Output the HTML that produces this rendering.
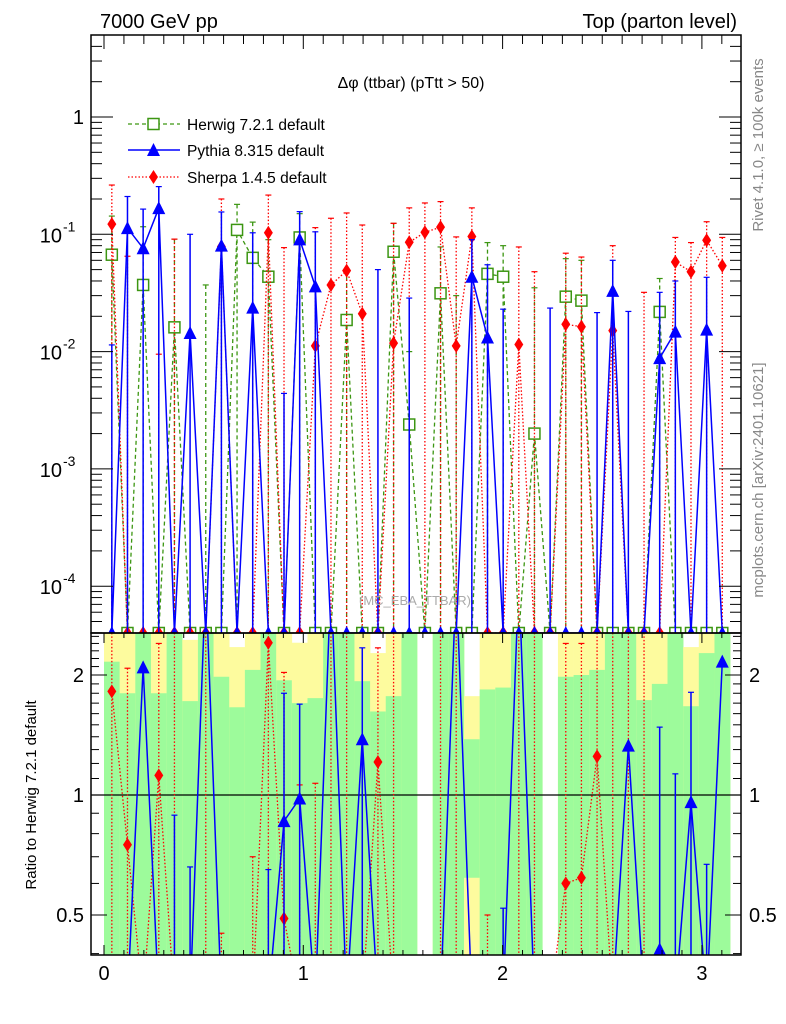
<!DOCTYPE html>
<html><head><meta charset="utf-8"><style>
html,body{margin:0;padding:0;background:#fff;}
svg{display:block;font-family:"Liberation Sans",Arial,sans-serif;}
</style></head><body>
<svg id="chart" xmlns="http://www.w3.org/2000/svg" width="786" height="1024" viewBox="0 0 786 1024">
<defs>
<clipPath id="cm"><rect x="91" y="35" width="650" height="598"/></clipPath>
<clipPath id="cr"><rect x="91" y="633" width="650" height="322"/></clipPath>
</defs>
<rect width="786" height="1024" fill="#fff"/>
<g id="bands" clip-path="url(#cr)"></g>
<g id="rmarks" clip-path="url(#cr)"></g>
<g id="mmarks" clip-path="url(#cm)"></g>
<g id="axes"></g>
<text x="100" y="28" font-size="20">7000 GeV pp</text>
<text x="737" y="28" font-size="20" text-anchor="end">Top (parton level)</text>
<text x="411" y="88" font-size="16" text-anchor="middle">Δφ (ttbar) (pTtt &gt; 50)</text>
<text x="415" y="605" font-size="13" fill="#aaa" text-anchor="middle">(MC_EBA_TTBAR)</text>
<text transform="translate(763,145) rotate(-90)" font-size="15" fill="#888" text-anchor="middle">Rivet 4.1.0, ≥ 100k events</text>
<text transform="translate(763,480) rotate(-90)" font-size="15" fill="#888" text-anchor="middle">mcplots.cern.ch [arXiv:2401.10621]</text>
<text transform="translate(36,795) rotate(-90)" font-size="15" text-anchor="middle">Ratio to Herwig 7.2.1 default</text>
<g id="legend">
 <g>
  <line x1="128" y1="124" x2="180" y2="124" stroke="#3c9612" stroke-width="1.3" stroke-dasharray="4,3"/>
  <rect x="148" y="118.5" width="11" height="11" fill="#fff" stroke="#3c9612" stroke-width="1.5"/>
  <text x="187" y="130" font-size="15.5">Herwig 7.2.1 default</text>
 </g>
 <g>
  <line x1="128" y1="150" x2="180" y2="150" stroke="#0000ff" stroke-width="1.5"/>
  <polygon points="153.5,143 160,156 147,156" fill="#0000ff"/>
  <text x="187" y="156" font-size="15.5">Pythia 8.315 default</text>
 </g>
 <g>
  <line x1="128" y1="177" x2="180" y2="177" stroke="#ff0000" stroke-width="1.3" stroke-dasharray="1.5,2"/>
  <polygon points="153.5,170 158,177 153.5,184 149,177" fill="#ff0000"/>
  <text x="187" y="183" font-size="15.5">Sherpa 1.4.5 default</text>
 </g>
</g>
</svg>
<script>
// ---- data (40 bins of Δφ, width π/40) ----
const nBins = 40;
const herwigVals = [0.067,0,0.037,0,0.0161,0,0,0,0.109,0.063,0.0435,0,0.094,0,0,0.0186,0,0,0.071,0.00239,0,0.0314,0,0,0.046,0.0435,0,0.0020,0,0.0294,0.0272,0,0,0,0,0.0218,0,0,0,0];
const pythiaVals = [0,0.113,0.076,0.167,0,0.0144,0,0.08,0,0.0237,0,0,0.0905,0.036,0,0,0,0,0,0,0,0,0,0.0435,0.0132,0,0,0,0,0,0,0,0.0329,0,0,0.0088,0.0148,0,0.0154,0];
const sherpaVals = [0.122,0,0,0,0,0,0,0.0785,0,0,0.103,0,0,0.0112,0.037,0.049,0.021,0,0.0118,0.0855,0.104,0.115,0.0112,0.0957,0,0,0.0115,0,0,0.0171,0.0163,0,0.0151,0,0,0,0.058,0.048,0.089,0.054];
const herwigErrTop = [0.143,0,0.116,0,0.091,0,0.037,0,0.18,0.127,0.09,0,0.15,0,0,0.05,0,0,0.124,0.01,0,0.078,0.03,0,0.085,0.08,0,0.035,0,0.062,0.06,0,0,0,0,0.042,0,0,0,0];
const pythiaErrTop = [0.0114,0.21,0.164,0.255,0,0.1,0,0.155,0,0.103,0,0.0044,0.156,0.105,0,0,0,0.05,0,0.0286,0,0,0,0.09,0.055,0.023,0,0,0.0235,0,0,0.0215,0.06,0.022,0,0.032,0.04,0,0.043,0];
const sherpaErrTop = [0.263,0.065,0,0.0095,0.091,0,0,0.2,0,0,0.216,0.077,0,0.114,0.137,0.152,0.12,0,0.124,0.168,0.185,0.19,0.095,0.168,0,0,0.078,0.048,0,0.069,0.064,0,0.08,0,0.032,0,0.094,0.085,0.128,0.094];
// ratio panel
const bandGreenTop = [2.16,1.8,3,1.8,3,1.72,3,1.98,1.66,2.06,3,1.94,1.7,1.75,3,3,1.93,1.62,1.77,3,0,3,3,1.38,1.84,1.86,3,3,0,1.98,2.0,2.06,3,3,1.73,1.9,3,1.67,2.27,3];
const bandGreenBot = [0,0,0,0,0,0,0,0,0,0,0,0,0,0,0,0,0,0,0,0,0,0,0,0.62,0,0,0,0,0,0,0,0,0,0,0,0,0,0,0,0];
const bandYellowTop = [3,3,3,3,3,2.45,3,3,2.35,3,3,3,2.41,3,3,3,3,2.27,3,3,0,3,3,1.77,3,3,3,3,0,3,3,3,3,3,3,3,3,2.35,3,3];
const pythiaRatio = [0,0,2.09,0,0,0,3.5,0,0,0,0,0.86,0.98,0,3.5,0,1.38,0,0,0,0,0,3.5,0,0,0,3.5,0,0,0,0,0,0,1.33,0,0.41,0,0.96,0,2.16];
const sherpaRatio = [1.82,0.75,0,1.12,0,0,0,0,0,0,2.41,0.49,0,0,0,0,0,1.21,0,0,0,0,0,0,0,0,0,0,0,0.6,0.62,1.25,0,0,0,0,0,0,0,0];
const pythiaRatioErrTop = [0,0,0,0,0.89,0.66,0,0,0,0,0.65,1.8,1.69,0,0,0,2.34,0,0,0,0,0,0,0,0,0.52,0,0,0,0,0,0,0,0,0,1.48,1.13,1.81,0.67,0];
const sherpaRatioErrTop = [3,2.08,0,2.4,3,0,3,0.45,0,0.7,3,2.03,1.06,1.07,3,3,0,2.34,3,0,0,3,3,0,0.5,0,3,3,0,2.4,2.4,3,3,3,3,0,0,0,0,0];
const xTickLabels = ["0","1","2","3"];
const ratioTickLabels = ["0.5","1","2"];
const ratioTickVals = [0.5,1,2];

// ---- axis functions ----
const NS = "http://www.w3.org/2000/svg";
const X = v => 104 + 199.3 * v;
const binW = Math.PI / 40;
const cx = i => X((i + 0.5) * binW);
const Ym = v => v > 0 ? 117 - 117.3 * Math.log10(v) : 660;
const Yr = r => r > 0 ? 795 - 398.6 * Math.log10(r) : 990;
function mk(tag, attrs, parent){ const e=document.createElementNS(NS,tag); for(const k in attrs) e.setAttribute(k,attrs[k]); parent.appendChild(e); return e; }
const gB=document.getElementById('bands'), gR=document.getElementById('rmarks'), gM=document.getElementById('mmarks'), gA=document.getElementById('axes');

// ---- ratio bands ----
for(let i=0;i<nBins;i++){
  const x0=X(i*binW), x1=X((i+1)*binW);
  if(bandYellowTop[i]>0){
    const r=mk('rect',{x:x0,y:Yr(bandYellowTop[i]),width:x1-x0+0.3,height:Math.max(0,970-Yr(bandYellowTop[i])),fill:'#fdfb9e'},gB);
    
    
  }
  if(bandGreenTop[i]>0){
    const bot = bandGreenBot[i]>0 ? Yr(bandGreenBot[i]) : 970;
    const r=mk('rect',{x:x0,y:Yr(bandGreenTop[i]),width:x1-x0+0.3,height:Math.max(0,bot-Yr(bandGreenTop[i])),fill:'#9dfb9b'},gB);
    
    
  }
}
mk('line',{x1:91,y1:Yr(1),x2:741,y2:Yr(1),stroke:'#000','stroke-width':1.2},gR);

const styles = {
  herwig:{c:'#3c9612',dash:'4,3',w:1.3},
  pythia:{c:'#0000ff',dash:'',w:1.5},
  sherpa:{c:'#ff0000',dash:'1.5,2',w:1.3}
};
function marker(kind,x,y,g){
  let m;
  if(kind==='herwig') m=mk('rect',{x:x-5.5,y:y-5.5,width:11,height:11,fill:'#fff',stroke:styles.herwig.c,'stroke-width':1.5},g);
  else if(kind==='pythia') m=mk('polygon',{points:`${x},${y-7} ${x+6.5},${y+6} ${x-6.5},${y+6}`,fill:'#0000ff'},g);
  else m=mk('polygon',{points:`${x},${y-7} ${x+4.5},${y} ${x},${y+7} ${x-4.5},${y}`,fill:'#ff0000'},g);
  
  
}
function series(kind,vals,errTop,Yf,g,zeroY){
  const s=styles[kind];
  // error bars
  for(let i=0;i<nBins;i++){
    if(errTop[i]>0){
      const x=cx(i), yt=Yf(errTop[i]);
      const l=mk('line',{x1:x,y1:yt,x2:x,y2:1000,stroke:s.c,'stroke-width':s.w,'stroke-dasharray':s.dash},g);
      
      
      mk('line',{x1:x-3,y1:yt,x2:x+3,y2:yt,stroke:s.c,'stroke-width':1.2},g);
    }
  }
  const pts=[];
  for(let i=0;i<nBins;i++) pts.push(cx(i)+','+(vals[i]>0?Yf(vals[i]):zeroY));
  const p=mk('polyline',{points:pts.join(' '),fill:'none',stroke:s.c,'stroke-width':s.w,'stroke-dasharray':s.dash},g);
  
  
  for(let i=0;i<nBins;i++){
    if(vals[i]>0) marker(kind,cx(i),Yf(vals[i]),g);
    else if(zeroY<700) marker(kind,cx(i),zeroY,g);
  }
}
series('herwig',herwigVals,herwigErrTop,Ym,gM,633);
series('sherpa',sherpaVals,sherpaErrTop,Ym,gM,633);
series('pythia',pythiaVals,pythiaErrTop,Ym,gM,633);
series('sherpa',sherpaRatio,sherpaRatioErrTop,Yr,gR,1000);
series('pythia',pythiaRatio,pythiaRatioErrTop,Yr,gR,1000);

// ---- axes & frames ----
mk('rect',{x:91,y:35,width:650,height:598,fill:'none',stroke:'#000','stroke-width':1.5},gA);
mk('rect',{x:91,y:633,width:650,height:322,fill:'none',stroke:'#000','stroke-width':1.5},gA);
// x ticks
for(let k=0;k<=31;k++){
  const v=k*0.1, x=X(v); if(x>741) break;
  const major = k%10===0, len = major?10:5;
  mk('line',{x1:x,y1:35,x2:x,y2:35+len+4,stroke:'#000','stroke-width':1},gA);
  mk('line',{x1:x,y1:633,x2:x,y2:633+len,stroke:'#000','stroke-width':1},gA);
  mk('line',{x1:x,y1:955,x2:x,y2:955-len,stroke:'#000','stroke-width':1},gA);
}
xTickLabels.forEach((t,i)=>{
  const e=mk('text',{x:X(i),y:980,'font-size':20,'text-anchor':'middle'},gA); e.textContent=t;
  
  
});
// main log ticks
for(let d=-5;d<=0;d++){
  for(let m=1;m<=9;m++){
    const v=m*Math.pow(10,d), y=Ym(v);
    if(y<35||y>633) continue;
    const len = m===1?22:11;
    mk('line',{x1:91,y1:y,x2:91+len,y2:y,stroke:'#000','stroke-width':1},gA);
    mk('line',{x1:741,y1:y,x2:741-len,y2:y,stroke:'#000','stroke-width':1},gA);
  }
}
const g1=mk('text',{x:84,y:124,'font-size':20,'text-anchor':'end'},gA); g1.textContent='1';


for(let d=-1;d>=-4;d--){
  const y=Ym(Math.pow(10,d));
  const t=mk('text',{x:62,y:y+8,'font-size':20,'text-anchor':'end'},gA); t.textContent='10';
  
  
  const s=mk('text',{x:63,y:y-3,'font-size':14},gA); s.textContent=String(d);
}
// ratio ticks
for(let k=4;k<=25;k++){
  const r=k/10, y=Yr(r); if(y<633||y>955) continue;
  const major=(k===5||k===10||k===20), len=major?16:8;
  mk('line',{x1:91,y1:y,x2:91+len,y2:y,stroke:'#000','stroke-width':1},gA);
  mk('line',{x1:741,y1:y,x2:741-len,y2:y,stroke:'#000','stroke-width':1},gA);
}
ratioTickVals.forEach((r,i)=>{
  const y=Yr(r)+7;
  const a=mk('text',{x:84,y:y,'font-size':20,'text-anchor':'end'},gA); a.textContent=ratioTickLabels[i];
  
  
  const b=mk('text',{x:749,y:y,'font-size':20},gA); b.textContent=ratioTickLabels[i];
  
  
});
</script>
</body></html>
